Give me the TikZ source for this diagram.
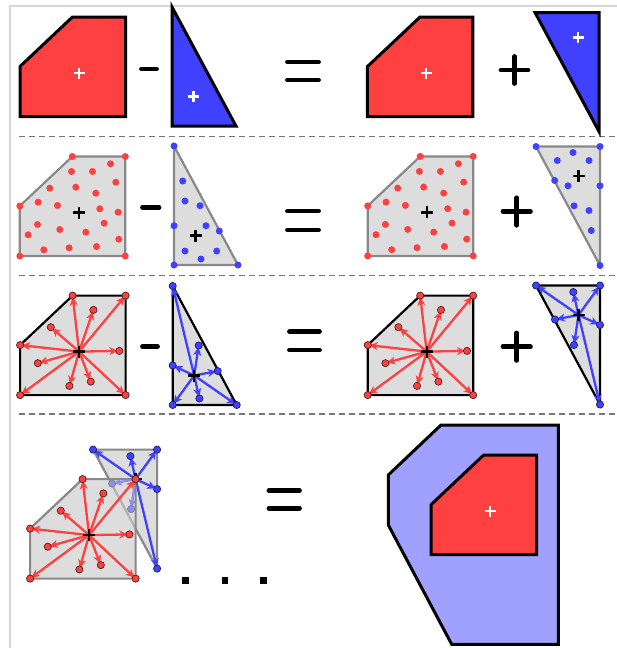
\documentclass[tikz,border=0pt]{standalone}
\usetikzlibrary{arrows.meta}
\definecolor{myred}{RGB}{255,64,64}
\definecolor{myblue}{RGB}{64,64,255}
\definecolor{lightblue}{RGB}{160,160,255}
\definecolor{mygray}{RGB}{221,221,221}
\definecolor{edgegray}{RGB}{136,136,136}
\definecolor{framegray}{RGB}{214,214,214}
\definecolor{dashgray}{RGB}{120,120,120}
\definecolor{dotedge}{RGB}{80,30,30}
\definecolor{bdotedge}{RGB}{30,30,90}
\newcommand\Ppath{(-59,-6.5) -- (-6.5,-56) -- (46.5,-56) -- (46.5,43.5) -- (-59,43.5) -- cycle}
\newcommand\Tpath{(-21.5,-89.5) -- (-21.5,29.5) -- (42.5,29.5) -- cycle}
\newcommand\PdenseList{(-59,-6.5),(-6.5,-56),(46.5,-56),(46.5,43.5),(-59,43.5),(-7.3,-41),(13.7,-41),(31.7,-48.7),(37,-30.3),(-29,-24.3),(-3,-25.3),(17,-19.3),(-40.7,-10.3),(-21.3,-7),(21,-3.7),(39.3,-0.3),(-41.3,12),(25.3,10.7),(-19,17),(7,19.7),(-50.7,22.3),(40,26.7),(-35,37.3),(-9.7,35.3),(17.7,34)}
\newcommand\PsparseList{(-59,-6.5),(-6.5,-56),(46.5,-56),(46.5,43.5),(-59,43.5),(14.3,-41.7),(-28.3,-24.4),(40.3,-0.7),(-41.3,11.6),(-9.7,34.3),(11.7,30)}
\newcommand\TdenseList{(-21.5,-89.5),(-21.5,29.5),(42.5,29.5),(-12.8,-54.5),(-10.5,-34.5),(4.5,-29.8),(-21.5,-9.8),(10.5,-9.8),(23.8,-4.5),(-10.5,15.5),(21.2,15.5),(5.5,23.5)}
\newcommand\TsparseList{(-21.5,-89.5),(-21.5,29.5),(42.5,29.5),(4.5,-30),(-21.5,-10),(23.5,-4.5),(5.2,23)}
\begin{document}
\begin{tikzpicture}[x=1pt,y=-1pt,
  redfill/.style={fill=myred,draw=black,line width=3pt},
  bluefill/.style={fill=myblue,draw=black,line width=3pt},
  lightfill/.style={fill=lightblue,draw=black,line width=3pt},
  greyshape/.style={fill=mygray,draw=edgegray,line width=2.2pt},
  blackshape/.style={fill=mygray,draw=black,line width=2.2pt},
  opsign/.style={line width=4.8pt,line cap=round},
  wplus/.style={draw=white,line width=2.2pt},
  bplus/.style={draw=black,line width=2.4pt},
  rdot/.style={fill=myred},
  bdot/.style={fill=myblue},
  rodot/.style={fill=myred,draw=dotedge,line width=0.7pt},
  bodot/.style={fill=myblue,draw=bdotedge,line width=0.7pt},
  redarrow/.style={draw=myred,line width=2.3pt,-{Stealth[length=8.5pt,width=8pt,inset=2.5pt]},shorten >=1.5pt},
  bluearrow/.style={draw=myblue,line width=2.3pt,-{Stealth[length=8.5pt,width=8pt,inset=2.5pt]},shorten >=1.5pt},
  sepline/.style={draw=dashgray,line width=1.5pt,dash pattern=on 6pt off 4pt}]
\useasboundingbox (0,0) rectangle (617,648);
% frame and separators
\draw[framegray,line width=1.5pt] (10,648) -- (10,6) -- (617,6);
\foreach \y in {136.5,275.5,414} \draw[sepline] (19,\y) -- (617,\y);

% ---------- row 1 ----------
\begin{scope}[shift={(79,73)}]
  \draw[redfill] \Ppath;
  \draw[wplus] (-5.5,0) -- (5.5,0) (0,-5.5) -- (0,5.5);
\end{scope}
\draw[opsign] (141.5,69) -- (156.5,69);
\begin{scope}[shift={(193.5,96.5)}]
  \draw[bluefill] \Tpath;
  \draw[wplus] (-5.5,0) -- (5.5,0) (0,-5.5) -- (0,5.5);
\end{scope}
\draw[opsign] (287.5,62) -- (318.5,62) (287.5,80) -- (318.5,80);
\begin{scope}[shift={(426.3,73.2)}]
  \draw[redfill] \Ppath;
  \draw[wplus] (-5.5,0) -- (5.5,0) (0,-5.5) -- (0,5.5);
\end{scope}
\draw[opsign] (501,70) -- (528,70) (514.5,56.5) -- (514.5,83.5);
\begin{scope}[shift={(577.5,42)},rotate=180]
  \draw[bluefill] \Tpath;
\end{scope}
\draw[wplus] (572.5,37.5) -- (583.5,37.5) (578,32) -- (578,43);

% ---------- row 2 ----------
\begin{scope}[shift={(78.8,212.5)}]
  \draw[greyshape] \Ppath;
  \foreach \p in \PdenseList \fill[rdot] \p circle[radius=3.5];
  \draw[bplus] (-6,0) -- (6,0) (0,-6) -- (0,6);
\end{scope}
\draw[opsign] (142.5,207.7) -- (159,207.7);
\begin{scope}[shift={(195.5,235.5)}]
  \draw[greyshape] \Tpath;
  \foreach \p in \TdenseList \fill[bdot] \p circle[radius=3.5];
  \draw[bplus] (-6,0) -- (6,0) (0,-6) -- (0,6);
\end{scope}
\draw[opsign] (287.5,211) -- (318.5,211) (287.5,230) -- (318.5,230);
\begin{scope}[shift={(426.7,212.4)}]
  \draw[greyshape] \Ppath;
  \foreach \p in \PdenseList \fill[rdot] \p circle[radius=3.5];
  \draw[bplus] (-6,0) -- (6,0) (0,-6) -- (0,6);
\end{scope}
\draw[opsign] (503,211.5) -- (530.4,211.5) (516.7,197.8) -- (516.7,225.2);
\begin{scope}[shift={(578.5,176)},rotate=180]
  \draw[greyshape] \Tpath;
  \foreach \p in \TdenseList \fill[bdot] \p circle[radius=3.5];
  \draw[bplus] (-6,0) -- (6,0) (0,-6) -- (0,6);
\end{scope}

% ---------- row 3 ----------
\begin{scope}[shift={(79.1,351.6)}]
  \draw[blackshape] \Ppath;
  \coordinate (cA) at (0,0);
  \foreach \p [count=\i] in \PsparseList {
    \path \p coordinate (pA\i);
    \draw[redarrow] (cA) -- (pA\i);
  }
  \foreach \p in \PsparseList \filldraw[rodot] \p circle[radius=3.6];
  \draw[bplus] (-6,0) -- (6,0) (0,-6) -- (0,6);
\end{scope}
\draw[opsign] (142.5,346.7) -- (157.5,346.7);
\begin{scope}[shift={(194.2,375.5)}]
  \draw[blackshape] \Tpath;
  \coordinate (cB) at (0,0);
  \foreach \p [count=\i] in \TsparseList {
    \path \p coordinate (pB\i);
    \draw[bluearrow] (cB) -- (pB\i);
  }
  \foreach \p in \TsparseList \filldraw[bodot] \p circle[radius=3.6];
  \draw[bplus] (-6,0) -- (6,0) (0,-6) -- (0,6);
\end{scope}
\draw[opsign] (289.5,331.7) -- (319.5,331.7) (289.5,350) -- (319.5,350);
\begin{scope}[shift={(426.7,351.6)}]
  \draw[blackshape] \Ppath;
  \coordinate (cC) at (0,0);
  \foreach \p [count=\i] in \PsparseList {
    \path \p coordinate (pC\i);
    \draw[redarrow] (cC) -- (pC\i);
  }
  \foreach \p in \PsparseList \filldraw[rodot] \p circle[radius=3.6];
  \draw[bplus] (-6,0) -- (6,0) (0,-6) -- (0,6);
\end{scope}
\draw[opsign] (503,346.7) -- (530.4,346.7) (516.7,333) -- (516.7,360.4);
\begin{scope}[shift={(578.5,315)},rotate=180]
  \draw[blackshape] \Tpath;
  \coordinate (cD) at (0,0);
  \foreach \p [count=\i] in \TsparseList {
    \path \p coordinate (pD\i);
    \draw[bluearrow] (cD) -- (pD\i);
  }
  \foreach \p in \TsparseList \filldraw[bodot] \p circle[radius=3.6];
  \draw[bplus] (-6,0) -- (6,0) (0,-6) -- (0,6);
\end{scope}

% ---------- row 4 ----------
\begin{scope}[shift={(89.1,535.1)}]
  \fill[mygray] \Ppath;
\end{scope}
\begin{scope}[shift={(135.6,479.1)},rotate=180]
  \draw[greyshape] \Tpath;
  \coordinate (cE) at (0,0);
  \foreach \p [count=\i] in \TsparseList {
    \path \p coordinate (pE\i);
    \draw[bluearrow] (cE) -- (pE\i);
  }
  \foreach \p in \TsparseList \filldraw[bodot] \p circle[radius=3.6];
  \draw[bplus] (-6,0) -- (6,0) (0,-6) -- (0,6);
\end{scope}
\begin{scope}[shift={(89.1,535.1)}]
  \fill[mygray,fill opacity=0.5] \Ppath;
  \draw[edgegray,line width=2.2pt] \Ppath;
  \coordinate (cF) at (0,0);
  \foreach \p [count=\i] in \PsparseList {
    \path \p coordinate (pF\i);
    \draw[redarrow] (cF) -- (pF\i);
  }
  \foreach \p in \PsparseList \filldraw[rodot] \p circle[radius=3.6];
  \draw[bplus] (-6,0) -- (6,0) (0,-6) -- (0,6);
\end{scope}
\foreach \x in {185.7,225,263.3} \fill[black] (\x-3.3,577.4) rectangle (\x+3.3,584);
\draw[opsign] (269,490.7) -- (299.5,490.7) (269,508.3) -- (299.5,508.3);
\draw[lightfill] (388.3,475) -- (441,425) -- (558.3,425) -- (558.3,644.3) -- (451.7,644.3) -- (388.3,525) -- cycle;
\begin{scope}[shift={(490.2,511)}]
  \draw[redfill] \Ppath;
  \draw[wplus] (-5.5,0) -- (5.5,0) (0,-5.5) -- (0,5.5);
\end{scope}
\end{tikzpicture}
\end{document}
